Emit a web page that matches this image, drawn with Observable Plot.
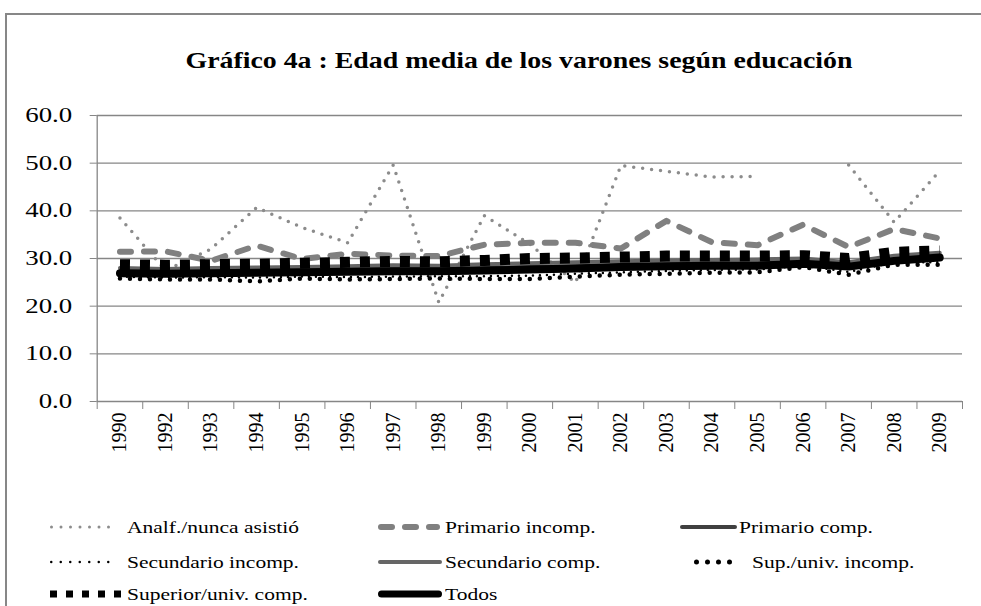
<!DOCTYPE html>
<html><head><meta charset="utf-8">
<script src="https://cdn.jsdelivr.net/npm/d3@7"></script>
<script src="https://cdn.jsdelivr.net/npm/@observablehq/plot@0.6"></script>
<style>
body{margin:0;background:#fff;}
#wrap{position:relative;width:981px;height:606px;overflow:hidden;font-family:"Liberation Serif","Times New Roman",Times,serif;color:#000;}
#frame{position:absolute;left:5px;top:13px;width:1200px;height:900px;border-left:2px solid #878787;border-top:2px solid #878787;}
#chart{position:absolute;left:0;top:0;}
#title{position:absolute;left:519px;top:48px;font-weight:bold;font-size:24px;line-height:24px;white-space:nowrap;}
.lt{position:absolute;font-size:17.5px;line-height:20px;white-space:nowrap;transform-origin:0 50%;}
#legsvg{position:absolute;left:0;top:0;}
</style></head>
<body><div id="wrap"><div id="frame"></div><div id="chart"></div><svg id="legsvg" width="981" height="606"></svg><span id="title">Gráfico 4a : Edad media de los varones según educación</span></div>
<script>
const years = ["1990","1992","1993","1994","1995","1996","1997","1998","1999","2000","2001","2002","2003","2004","2005","2006","2007","2008","2009"];
const yTicks = [0,10,20,30,40,50,60];
const analf    = [38.5,27.5,32.0,40.7,36.5,33.3,49.6,20.8,39.0,33.0,24.9,49.5,48.3,47.1,47.2,null,49.6,37.6,48.4];
const primInc  = [31.4,31.5,29.5,32.7,29.9,31.0,30.6,30.5,32.9,33.3,33.3,32.1,37.9,33.4,32.8,37.1,32.4,36.2,34.2];
const primComp = [27.4,27.2,27.4,27.5,27.6,27.8,28.0,27.9,28.1,28.3,28.5,28.7,28.9,29.0,29.1,29.4,28.7,30.0,30.5];
const secInc   = [26.2,26.0,26.1,26.0,26.2,26.1,26.2,26.3,26.3,26.4,26.8,27.1,27.4,27.6,27.7,28.5,27.2,29.2,29.2];
const secComp  = [28.0,27.8,28.0,28.1,28.2,28.4,28.6,28.5,28.8,29.0,29.2,29.4,29.6,29.7,29.8,30.0,29.2,30.6,31.2];
const supInc   = [25.8,25.6,25.6,25.2,25.8,25.6,25.7,25.8,25.7,25.7,26.2,26.6,26.8,27.0,27.1,28.2,26.6,28.7,28.7];
const supComp  = [28.7,28.6,28.7,28.8,29.0,29.2,29.4,29.3,29.6,30.0,30.1,30.3,30.5,30.5,30.5,30.6,30.0,31.3,31.6];
const todos    = [26.9,26.8,26.9,27.0,27.1,27.2,27.3,27.3,27.5,27.7,27.9,28.2,28.4,28.5,28.5,28.9,28.3,29.5,30.2];
const names = ["Analf./nunca asistió","Primario incomp.","Primario comp.","Secundario incomp.","Secundario comp.","Sup./univ. incomp.","Superior/univ. comp.","Todos"];
const seriesValues = [analf, primInc, primComp, secInc, secComp, supInc, supComp, todos];

// styles (kept apart from data)
const styles = [
  {stroke:"#8c8c8c", w:3.5, dash:"0 9", cap:"round", lw:3, ldash:"0 9.5"},
  {stroke:"#808080", w:6, dash:"11 13", cap:"round", lw:6, ldash:"11 13"},
  {stroke:"#404040", w:3, dash:null, cap:"round", lw:4, ldash:null},
  {stroke:"#000", w:2.5, dash:"0 7", cap:"round", lw:2.5, ldash:"0 9.5"},
  {stroke:"#666666", w:4, dash:null, cap:"round", lw:4, ldash:null},
  {stroke:"#000", w:4.5, dash:"0 10", cap:"round", lw:5, ldash:"0 11"},
  {stroke:"#000", w:11, dash:"10 10", cap:"butt", lw:7, ldash:"7 9"},
  {stroke:"#000", w:8, dash:null, cap:"round", lw:7, ldash:null}
];
const legendPos = [
  {sx:50, ex:118, tx:127, y:527},
  {sx:378, ex:440, tx:445, y:527},
  {sx:680, ex:737, tx:739, y:527},
  {sx:50, ex:118, tx:127, y:562},
  {sx:378, ex:442, tx:445, y:562},
  {sx:694, ex:742, tx:752, y:562},
  {sx:50, ex:121, tx:127, y:594},
  {sx:378, ex:442, tx:445, y:594}
];
const axisGray = "#868686";
const idx = years.map((d,i)=>i);
const bounds = d3.range(-0.5, years.length, 1);

const lineMarks = seriesValues.map((vals, k) => Plot.lineY(vals, {
  x: (d,i)=>i, y: d => (d == null ? NaN : d),
  stroke: styles[k].stroke, strokeWidth: styles[k].w,
  strokeDasharray: styles[k].dash, strokeLinecap: styles[k].cap, strokeLinejoin: "round"
}));

const chart = Plot.plot({
  width: 981, height: 470,
  marginLeft: 96.7, marginRight: 19, marginTop: 115, marginBottom: 69,
  style: {fontFamily: '"Liberation Serif","Times New Roman",Times,serif', background: "transparent", overflow: "visible"},
  x: {type: "linear", domain: [-0.5, years.length - 0.5]},
  y: {domain: [0, 60]},
  marks: [
    Plot.gridY(yTicks.slice(1), {stroke: axisGray, strokeOpacity: 1, strokeWidth: 1.3}),
    Plot.axisY(yTicks, {tickSize: 7, tickPadding: 18, tickFormat: d => d.toFixed(1), stroke: axisGray, fill: "#000", fontSize: 20, label: null}),
    Plot.axisX(bounds, {tickSize: 8, tickFormat: () => "", stroke: axisGray, label: null}),
    Plot.axisX(idx, {tickSize: 0, tickPadding: 11, tickRotate: -90, tickFormat: i => years[i], fill: "#000", fontSize: 20, label: null}),
    Plot.ruleX([-0.5], {y1: 0, y2: 60, stroke: axisGray, strokeWidth: 1.3}),
    Plot.ruleY([0], {stroke: axisGray, strokeWidth: 1.3}),
    ...lineMarks
  ]
});
document.getElementById("chart").appendChild(chart);

// stretch y tick labels horizontally to the reference's wide glyphs
const ylabels = chart.querySelectorAll('g[aria-label="y-axis tick label"] text');
let ref = null; ylabels.forEach(t => { if (t.textContent === "60.0") ref = t; });
if (ref) {
  const ky = 47 / ref.getComputedTextLength();
  ylabels.forEach(t => { const w = t.getComputedTextLength(); t.setAttribute("textLength", w * ky); t.setAttribute("lengthAdjust", "spacingAndGlyphs"); });
}

// title
const title = document.getElementById("title");
const tw = title.getBoundingClientRect().width;
title.style.transform = `translateX(-50%) scaleX(${667 / tw})`;

// legend
const ns = "http://www.w3.org/2000/svg";
const leg = document.getElementById("legsvg");
const wrap = document.getElementById("wrap");
const spans = [];
names.forEach((n, k) => {
  const p = legendPos[k], s = styles[k];
  const ln = document.createElementNS(ns, "line");
  const sw = s.lw;
  ln.setAttribute("x1", p.sx + (s.cap === "round" ? sw/2 : 0)); ln.setAttribute("x2", p.ex - (s.cap === "round" ? sw/2 : 0));
  ln.setAttribute("y1", p.y); ln.setAttribute("y2", p.y);
  ln.setAttribute("stroke", s.stroke); ln.setAttribute("stroke-width", sw);
  ln.setAttribute("stroke-linecap", s.cap);
  if (s.ldash) ln.setAttribute("stroke-dasharray", s.ldash);
  leg.appendChild(ln);
  const sp = document.createElement("span");
  sp.className = "lt"; sp.textContent = n;
  sp.style.left = p.tx + "px"; sp.style.top = (p.y - 10) + "px";
  wrap.appendChild(sp); spans.push(sp);
});
const kx = 172 / spans[3].getBoundingClientRect().width;
spans.forEach(sp => sp.style.transform = `scaleX(${kx})`);
</script></body></html>
